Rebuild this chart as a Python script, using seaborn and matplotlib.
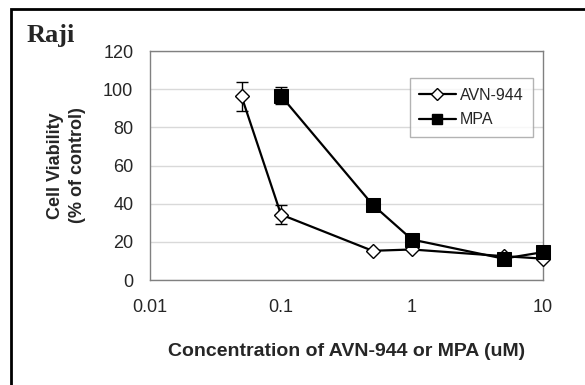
import numpy as np
import pandas as pd
import matplotlib
matplotlib.use("Agg")
import matplotlib.pyplot as plt
import seaborn as sns
from matplotlib.lines import Line2D
from matplotlib.patches import Rectangle

# data
avn_conc = [0.05, 0.1, 0.5, 1, 5, 10]
avn_viab = [96.2, 34.3, 15.3, 16.0, 12.5, 11.2]
avn_err = [7.6, 4.8, 0, 0, 0, 0]
mpa_conc = [0.1, 0.5, 1, 5, 10]
mpa_viab = [96.5, 39.5, 21.2, 11.2, 14.6]
mpa_err = [4.4, 0, 0, 0, 0]
y_ticks = [0, 20, 40, 60, 80, 100, 120]
x_ticks = [0.01, 0.1, 1, 10]
x_ticklabels = ["0.01", "0.1", "1", "10"]

df_avn = pd.DataFrame({"conc": avn_conc, "viab": avn_viab, "err": avn_err})
df_mpa = pd.DataFrame({"conc": mpa_conc, "viab": mpa_viab, "err": mpa_err})

sns.set_style("white")
plt.rcParams['font.family'] = ['Liberation Sans', 'DejaVu Sans']

fig = plt.figure(figsize=(5.85, 3.85), dpi=100)
ax = fig.add_axes([0.2564, 0.2727, 0.6718, 0.5948])

# outer frame of the panel
fig.patches.append(Rectangle((11 / 585, -0.1), 1.2, 1 - 9 / 385 + 0.1,
                             transform=fig.transFigure, fill=False,
                             edgecolor="black", linewidth=2, clip_on=False))

for d in (df_avn, df_mpa):
    e = d[d["err"] > 0]
    ax.errorbar(e["conc"], e["viab"], yerr=e["err"], fmt="none",
                ecolor="black", elinewidth=1, capsize=4, capthick=1, zorder=2)

sns.lineplot(data=df_avn, x="conc", y="viab", ax=ax, color="black",
             linewidth=1.6, marker="D", markersize=7.5,
             markerfacecolor="white", markeredgecolor="black",
             markeredgewidth=1, zorder=3, clip_on=False)
sns.lineplot(data=df_mpa, x="conc", y="viab", ax=ax, color="black",
             linewidth=1.6, marker="s", markersize=9.5,
             markerfacecolor="black", markeredgecolor="black", zorder=4,
             clip_on=False)

ax.set_xscale("log")
ax.set_xlim(0.01, 10)
ax.set_ylim(0, 120)
ax.set_xticks(x_ticks)
ax.set_xticklabels(x_ticklabels)
ax.minorticks_off()
ax.set_yticks(y_ticks)
ax.tick_params(axis="both", labelsize=13, length=4, width=1,
               color="#808080", direction="out")
ax.tick_params(axis="x", pad=10)
ax.tick_params(axis="y", pad=8)
ax.yaxis.grid(True, color="#d9d9d9", linewidth=1)
ax.xaxis.grid(False)
for s in ax.spines.values():
    s.set_color("#808080")
    s.set_linewidth(1)
    s.set_visible(True)

ax.set_xlabel("Concentration of AVN-944 or MPA (uM)", fontsize=14,
              fontweight="bold")
ax.xaxis.set_label_coords(0.5, -0.275)
ax.set_ylabel("Cell Viability\n(% of control)", fontsize=13,
              fontweight="bold", linespacing=1.4)
ax.yaxis.set_label_coords(-0.162, 0.5)

handles = [
    Line2D([], [], color="black", linewidth=1.6, marker="D", markersize=6,
           markerfacecolor="white", markeredgecolor="black"),
    Line2D([], [], color="black", linewidth=1.6, marker="s", markersize=7.5,
           markerfacecolor="black"),
]
leg = ax.legend(handles, ["AVN-944", "MPA"], loc="upper right",
                bbox_to_anchor=(0.975, 0.882), fontsize=11.5, frameon=True,
                fancybox=False, edgecolor="#a0a0a0", handlelength=2.3,
                handletextpad=0.25, borderpad=0.6, labelspacing=0.6,
                borderaxespad=0)
leg.get_frame().set_linewidth(1)

fig.text(27 / 585, 1 - 42 / 385, "Raji", fontsize=19, fontweight="bold",
         family=["Liberation Serif", "DejaVu Serif"])

fig.savefig("out.png", dpi=100)
